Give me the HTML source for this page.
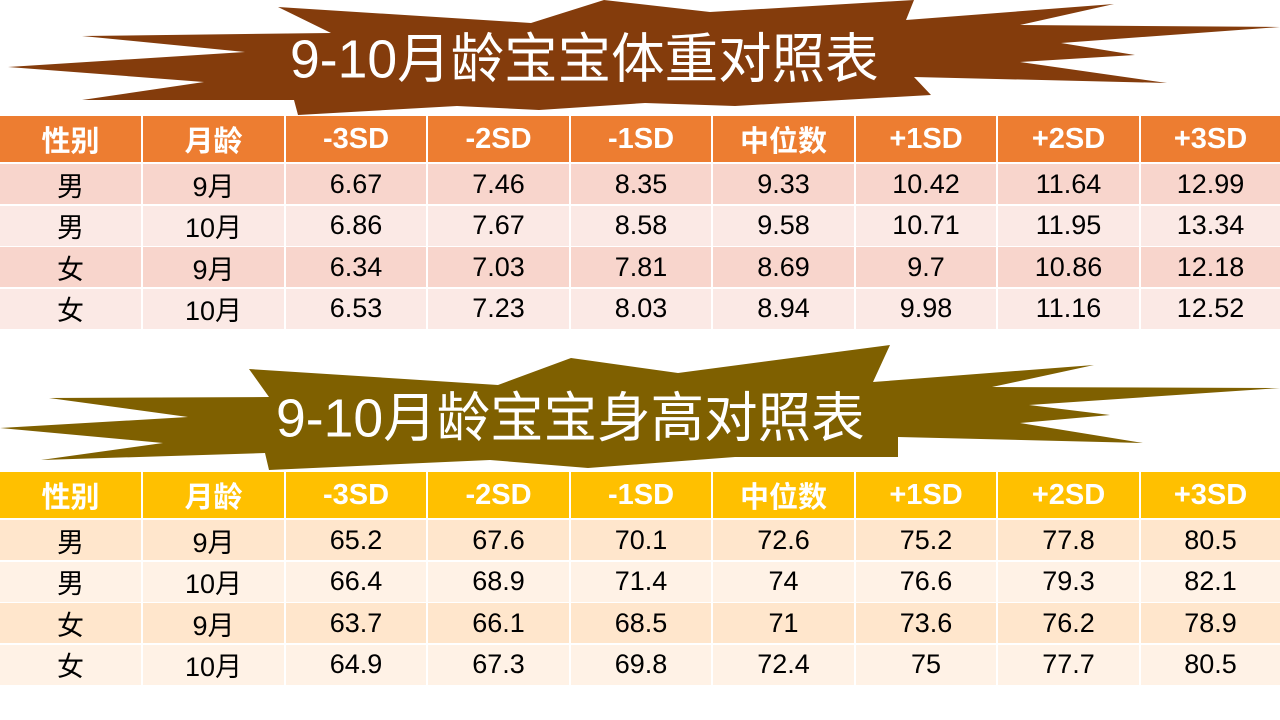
<!DOCTYPE html>
<html><head><meta charset="utf-8"><style>
body{margin:0;width:1280px;height:720px;background:#fff;position:relative;overflow:hidden;font-family:"Liberation Sans","Noto Sans CJK SC",sans-serif}
.c{position:absolute;display:flex;align-items:center;justify-content:center;color:#000;font-size:27px}
.h{color:#fff;font-weight:bold;font-size:29px}
.t{position:absolute;color:#fff;font-size:50px;font-family:"Liberation Sans","Noto Sans CJK SC",sans-serif;white-space:nowrap;transform-origin:0 0;transform:scale(1.07,1.08);line-height:1}
</style></head><body>
<svg width="1280" height="720" style="position:absolute;left:0;top:0">
<polygon fill="#843C0C" points="278,7 331,33 82,36 245,52 8,67 204,82 82,100 294,100 298,115 457,106 539,110 645,103 735,106 931,95 914,77 1167,83 1020,62 1135,55 1061,43 1280,27 1020,25 1114,4 906,20 914,0 710,12 604,0 531,23"/>
<polygon fill="#7F6000" points="249,369 498,385 571,358 678,373 890,345 873,382 1094,365 992,387 1280,388 1029,405 1110,415 1020,423 1143,443 898,437 898,457 735,457 588,468 490,460 269,470 265,453 41,460 163,443 0,428 188,417 49,398 269,397"/>
</svg>
<div class="t" style="left:290px;top:32px">9-10月龄宝宝体重对照表</div>
<div class="t" style="left:276px;top:391px">9-10月龄宝宝身高对照表</div>
<div id="g"></div>
<script>
var cols=[0,142,285,427,570,712,855,997,1140,1280];
var hd=["性别","月龄","-3SD","-2SD","-1SD","中位数","+1SD","+2SD","+3SD"];
var d1=[["男","9月","6.67","7.46","8.35","9.33","10.42","11.64","12.99"],["男","10月","6.86","7.67","8.58","9.58","10.71","11.95","13.34"],["女","9月","6.34","7.03","7.81","8.69","9.7","10.86","12.18"],["女","10月","6.53","7.23","8.03","8.94","9.98","11.16","12.52"]];
var d2=[["男","9月","65.2","67.6","70.1","72.6","75.2","77.8","80.5"],["男","10月","66.4","68.9","71.4","74","76.6","79.3","82.1"],["女","9月","63.7","66.1","68.5","71","73.6","76.2","78.9"],["女","10月","64.9","67.3","69.8","72.4","75","77.7","80.5"]];
var h="";
function tbl(top,hc,r1,r2,data){
 var rows=[[top,46,hc,hd,1]];var y=top+48;
 for(var i=0;i<4;i++){rows.push([y,40,i%2?r2:r1,data[i],0]);y+=41.5;}
 rows.forEach(function(r){for(var j=0;j<9;j++){var x=cols[j]+(j?1:0),w=cols[j+1]-cols[j]-(j?1:0)-(j<8?1:0);
 h+='<div class="c'+(r[4]?' h':'')+'" style="left:'+x+'px;top:'+r[0]+'px;width:'+w+'px;height:'+r[1]+'px;background:'+r[2]+'">'+r[3][j]+'</div>';}});
}
tbl(116,"#ED7D31","#F8D5CC","#FBE9E5",d1);
tbl(472,"#FFC000","#FFE6CC","#FFF2E6",d2);
document.getElementById("g").innerHTML=h;
</script>
</body></html>
